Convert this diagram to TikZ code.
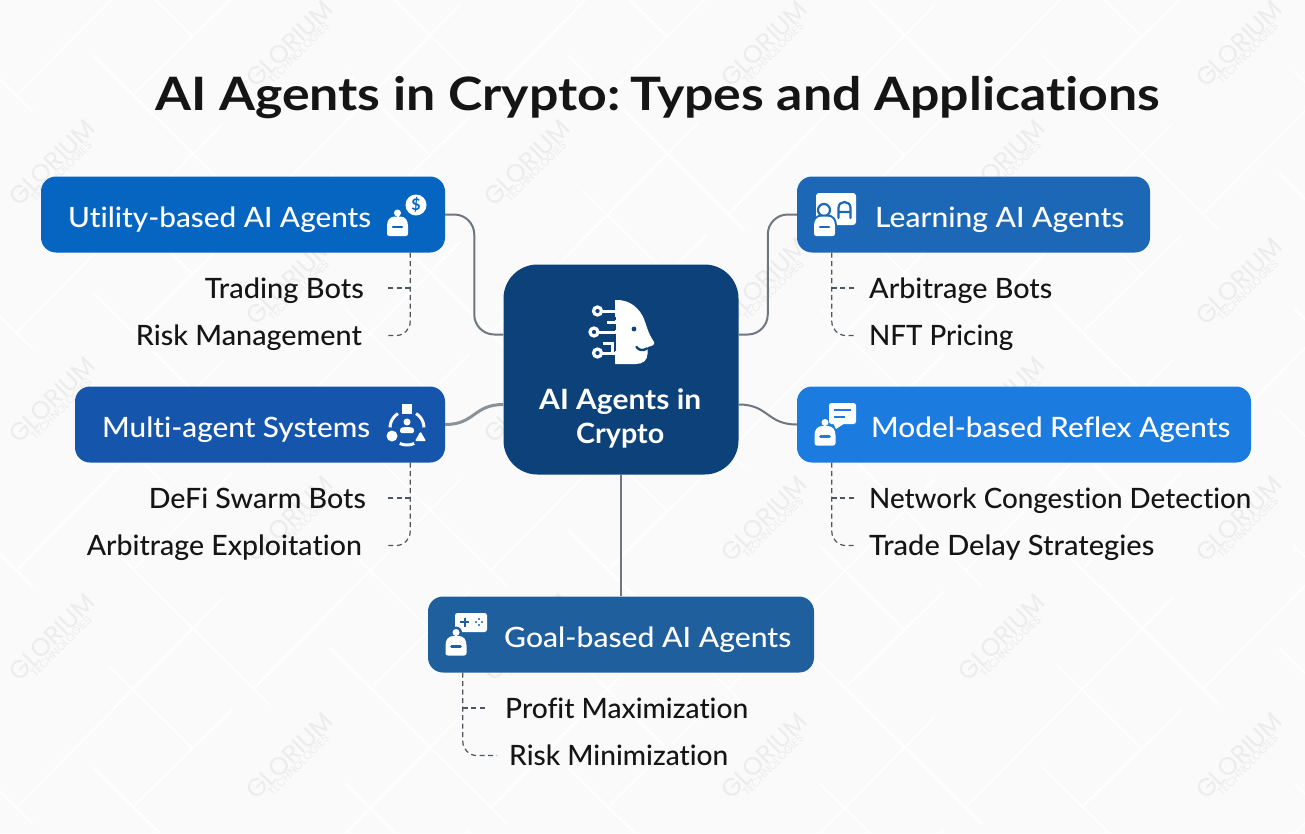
\documentclass[tikz,border=0pt]{standalone}
\usepackage{fontspec}
\usepackage{graphicx}
\setmainfont[Ligatures=NoCommon]{Lato}
\newfontfamily\medf[Ligatures=NoCommon]{Lato Medium}
\newfontfamily\wmf{Poppins}
\usetikzlibrary{calc}
\definecolor{bgc}{HTML}{FAFAFA}
\definecolor{cc}{HTML}{0C4179}
\definecolor{uc}{HTML}{0565C0}
\definecolor{lc}{HTML}{1C68B6}
\definecolor{mc}{HTML}{1556AC}
\definecolor{rc}{HTML}{1B7BDF}
\definecolor{gc}{HTML}{205F9E}
\definecolor{ink}{HTML}{151515}
\definecolor{wire}{HTML}{6E7680}
\definecolor{subw}{HTML}{4F555C}
\definecolor{wm}{HTML}{ECECEC}
\newsavebox\fitbox
% {font}{size}{target width}{text}
\newcommand\fitt[4]{\sbox\fitbox{#1\fontsize{#2}{#2}\selectfont #4}\pgfmathsetmacro\xs{#3/\the\wd\fitbox}\scalebox{\xs}[1]{\usebox\fitbox}}
\tikzset{
 x=1pt,y=-1pt,
 hub/.style={draw=none,fill=cc,rounded corners=34pt,minimum width=235pt,minimum height=210pt,inner sep=0pt},
 agent/.style={fill=#1,rounded corners=15pt,minimum height=76pt,inner sep=0pt},
 conn/.style={draw=wire,line width=2pt},
 sub/.style={draw=subw,line width=1.2pt,dash pattern=on 5pt off 3.5pt},
 lbl/.style={inner sep=0pt,text=white,anchor=base west},
 item/.style={inner sep=0pt,text=ink,text height=26pt,text depth=6pt},
 bgline/.style={white,line width=1.6pt},
 ttl/.style={inner sep=0pt,text=ink,anchor=base west}
}
% robot head, origin at bottom-left; #1 x, #2 y, #3 cut colour, #4 outline options
\newcommand\robotshape{(0,-10) .. controls (0,-16) and (3,-19.5) .. (8,-19.5) -- (13,-19.5) .. controls (18,-19.5) and (21,-16) .. (21,-10) -- (21,-2.5) .. controls (21,-.8) and (20.2,0) .. (18.5,0) -- (2.5,0) .. controls (.8,0) and (0,-.8) .. (0,-2.5) -- cycle}
\newcommand\robothead[4]{\begin{scope}[shift={(#1,#2)}]
 \path[#4] \robotshape;
 \fill[white] \robotshape;
 \draw[#3,line width=2.6pt,line cap=round] (6,-9) -- (15,-9);
 \end{scope}}
\newcommand\antenna[3]{\begin{scope}[shift={(#1,#2)}]
 \draw[white,line width=2pt] (10.5,-16) -- (10.5,-21);
 \fill[white] (10.5,-23) circle[radius=3.5pt];
 \end{scope}}
\begin{document}
\begin{tikzpicture}
\useasboundingbox (0,0) rectangle (1305,833);
\fill[bgc] (0,0) rectangle (1305,833);
% background lattice
\begin{scope}
\clip (0,0) rectangle (1305,833);
\foreach \s in {-2,...,6}{\foreach \dd in {-8,...,3}{
 \pgfmathtruncatemacro\prty{mod(abs(\s+\dd),2)}
 \ifnum\prty=0
 \begin{scope}[shift={({237.3*\s},{118.67*\dd})}]
 \draw[bgline] (17,807) -- (223,598);
 \draw[bgline] (135,805) -- (232,710);
 \draw[bgline] (127,563) -- (270,705);
 \draw[bgline] (108,665) -- (192,748);
 \draw[bgline] (93,767) -- (193,866);
 \end{scope}
 \fi
}}
\foreach \s in {0,...,5}{\foreach \dd in {-5,...,1}{
 \pgfmathtruncatemacro\prty{mod(abs(\s+\dd),2)}
 \ifnum\prty=0
 \node[rotate=45,text=wm,inner sep=0pt,align=center] (wm\s x\the\numexpr\dd+5\relax) at ({55+237.3*\s},{640+118.67*\dd})
   {{\wmf\fontsize{25}{25}\selectfont GLORIUM}\\[-4pt]{\wmf\fontsize{11}{12}\selectfont TECHNOLOGIES}};
 \fi
}}
\end{scope}
% title
\node[ttl] (title) at (155,110.7) {\fitt{\bfseries}{46}{1005}{AI Agents in Crypto:\kern-6pt{} Types and Applications}};
% boxes
\node[hub] (c) at (621,369.5) {};
\node[agent=uc,minimum width=404pt] (u) at (243,214.5) {};
\node[agent=lc,minimum width=353pt] (l) at (973.5,214.5) {};
\node[agent=mc,minimum width=370pt] (m) at (260,424.5) {};
\node[agent=rc,minimum width=454pt] (r) at (1024,424.5) {};
\node[agent=gc,minimum width=386pt] (g) at (621,634.5) {};
% main connectors
\coordinate (c1) at ($(c.west)+(0,-35)$);
\coordinate (c3) at ($(c.east)+(0,-35)$);
\coordinate (c4) at ($(c.east)+(0,35)$);
\coordinate (c5) at ($(c.west)+(0,35)$);
\coordinate (k1) at ($(u.east)!.5!(u.east-|c1)$);
\coordinate (k3) at ($(l.west)!.5!(l.west-|c3)$);
\draw[conn,rounded corners=20pt] (u.east) -- (k1) -- (k1 |- c1) -- (c1);
\draw[conn,rounded corners=20pt] (l.west) -- (k3) -- (k3 |- c3) -- (c3);
\draw[conn,draw=wire!80!white,line width=3pt] (m.east) .. controls +(30,0) and ($(c5)+(-30,0)$) .. (c5);
\draw[conn] (c4) .. controls +(30,0) and ($(r.west)+(-30,0)$) .. (r.west);
\draw[conn] (c.south) -- (g.north);
% box labels
\node[lbl] (ul) at (68,227) {\fitt{\medf}{28}{303}{Utility-based AI Agents}};
\node[lbl] (ll) at (875,227) {\fitt{\medf}{28}{249}{Learning AI Agents}};
\node[lbl] (ml) at (102,437) {\fitt{\medf}{28}{268}{Multi-agent Systems}};
\node[lbl] (rl) at (871,437) {\fitt{\medf}{28}{359}{Model-based Reflex Agents}};
\node[lbl] (gl) at (504,647) {\fitt{\medf}{28}{287}{Goal-based AI Agents}};
\node[lbl] (c1l) at (539,409) {\fitt{\bfseries}{28}{162}{AI Agents in}};
\node[lbl] (c2l) at (576,443) {\fitt{\bfseries}{28}{88}{Crypto}};
% sub-items
\node[item,anchor=east] (u1) at (364,288) {\fitt{\medf}{28}{159}{Trading Bots}};
\node[item,anchor=east] (u2) at (362,335.5) {\fitt{\medf}{28}{226}{Risk Management}};
\node[item,anchor=west] (l1) at (869,288) {\fitt{\medf}{28}{183}{Arbitrage Bots}};
\node[item,anchor=west] (l2) at (869,335.5) {\fitt{\medf}{28}{144}{NFT Pricing}};
\node[item,anchor=east] (m1) at (366,498) {\fitt{\medf}{28}{217}{DeFi Swarm Bots}};
\node[item,anchor=east] (m2) at (362,545.5) {\fitt{\medf}{28}{275}{Arbitrage Exploitation}};
\node[item,anchor=west] (r1) at (869,498) {\fitt{\medf}{28}{382}{Network Congestion Detection}};
\node[item,anchor=west] (r2) at (869,545.5) {\fitt{\medf}{28}{285}{Trade Delay Strategies}};
\node[item,anchor=west] (g1) at (505,708) {\fitt{\medf}{28}{243}{Profit Maximization}};
\node[item,anchor=west] (g2) at (509,755.5) {\fitt{\medf}{28}{219}{Risk Minimization}};
% sub connectors
\coordinate (us) at ($(u.south east)+(-35,0)$);
\coordinate (ls) at ($(l.south west)+(35,0)$);
\coordinate (ms) at ($(m.south east)+(-35,0)$);
\coordinate (rs) at ($(r.south west)+(35,0)$);
\coordinate (gs) at ($(g.south west)+(35,0)$);
\draw[sub,rounded corners=14pt] (us) |- ($(u2.east)+(23,0)$);
\draw[sub] (us |- u1.east) -- ($(u1.east)+(21,0)$);
\draw[sub,rounded corners=14pt] (ls) |- ($(l2.west)+(-12,0)$);
\draw[sub] (ls |- l1.west) -- ($(l1.west)+(-12,0)$);
\draw[sub,rounded corners=14pt] (ms) |- ($(m2.east)+(23,0)$);
\draw[sub] (ms |- m1.east) -- ($(m1.east)+(19,0)$);
\draw[sub,rounded corners=14pt] (rs) |- ($(r2.west)+(-12,0)$);
\draw[sub] (rs |- r1.west) -- ($(r1.west)+(-12,0)$);
\draw[sub,rounded corners=14pt] (gs) |- ($(g2.west)+(-12,0)$);
\draw[sub] (gs |- g1.west) -- ($(g1.west)+(-17,0)$);
% icon: utility
\antenna{387}{236}{uc}
\robothead{387}{236}{uc}{}
\fill[white] (416,205) circle[radius=10.5pt];
\node[text=uc,inner sep=0pt] (dollar) at (416,205) {\fontsize{16}{16}\selectfont\bfseries\$};
% icon: learning
\fill[white,rounded corners=3pt] (816,193) rectangle (856,225);
\draw[lc,line width=2.2pt,line cap=round] (838.5,218) -- (838.5,208) .. controls (838.5,200) and (850.5,200) .. (850.5,208) -- (850.5,218) (838.5,212) -- (850.5,212);
\draw[lc,fill=white,line width=2.2pt] (824,210) circle[radius=6pt];
\robothead{814}{236}{lc}{draw=lc,line width=4pt}
% icon: model
\fill[white,rounded corners=2.5pt] (829,403) rectangle (856,424);
\fill[white] (833,423) -- (836,429) -- (845,423) -- cycle;
\draw[rc,line width=2pt] (834,409.5) -- (851,409.5) (834,416.5) -- (845,416.5);
\antenna{814.5}{445.5}{rc}
\robothead{814.5}{445.5}{rc}{}
% icon: goal
\fill[white,rounded corners=2.5pt] (455,613) rectangle (487,632);
\draw[gc,line width=2pt] (460,622) -- (469,622) (464.5,617.5) -- (464.5,626.5);
\foreach \a/\b in {479/619,479/625,476/622,482/622}{\fill[gc] (\a,\b) circle[radius=1.2pt];}
\fill[gc] (456,632.5) circle[radius=6pt];
\antenna{445.5}{655.5}{gc}
\robothead{445.5}{655.5}{gc}{}
% icon: multi
\fill[white] (402,404) rectangle (412,414);
\draw[white,line width=3pt,domain=122:178,samples=12,variable=\t] plot ({407+17*cos(\t)},{428-17*sin(\t)});
\draw[white,line width=3pt,domain=2:58,samples=12,variable=\t] plot ({407+17*cos(\t)},{428-17*sin(\t)});
\draw[white,line width=3pt,domain=245:295,samples=12,variable=\t] plot ({407+17*cos(\t)},{428-17*sin(\t)});
\fill[white] (407,422) circle[radius=3.5pt];
\fill[white,rounded corners=1.5pt] (400,433) -- (400,430) .. controls (401,426.5) and (413,426.5) .. (414,430) -- (414,433) -- cycle;
\fill[white] (392,436) circle[radius=5.5pt];
\fill[white,rounded corners=1pt] (415,441) -- (420.5,431.5) -- (426,441) -- cycle;
% icon: hub face
\fill[white] (615,300) .. controls (630,299) and (640,309) .. (644,319) .. controls (647,327) and (648,333) .. (654,342) .. controls (655,345) and (652,346) .. (647.5,347) -- (647.5,354) .. controls (647.5,360) and (643,364) .. (636,364) -- (615,364) -- cycle;
\draw[cc,line width=2.4pt,line cap=round] (636.5,347) .. controls (639,350.5) and (643,351) .. (647,348.5);
\fill[cc] (634,329) circle[radius=2.4pt];
\fill[cc] (612,316.5) rectangle (616,320);
\fill[cc] (612,324) rectangle (616,330);
\fill[cc] (612,334) rectangle (616,351);
\draw[white,line width=3pt] (601,311) -- (616,311) (607,322) -- (616,322) (598,332) -- (616,332) (601,353) -- (616,353);
\draw[white,line width=3pt] (603,343) -- (612,343) -- (612,353);
\draw[white,fill=cc,line width=3.2pt] (597.5,311) circle[radius=4pt];
\draw[white,fill=cc,line width=3.2pt] (594,332) circle[radius=4pt];
\draw[white,fill=cc,line width=3.2pt] (597.5,353) circle[radius=4pt];
\end{tikzpicture}
\end{document}
